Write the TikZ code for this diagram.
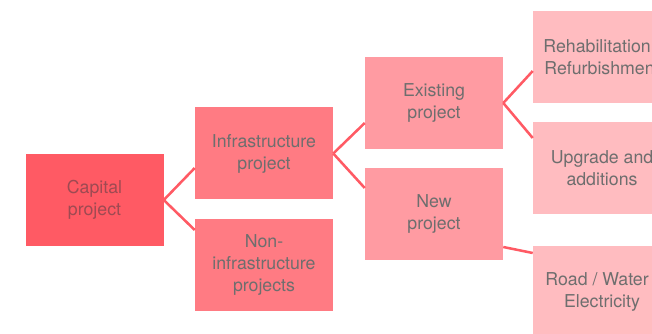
\documentclass[tikz,border=0pt]{standalone}
\usepackage{fontspec}
\setmainfont{TeX Gyre Heros}
\usetikzlibrary{calc}
\definecolor{lvlA}{HTML}{FF5A64}
\definecolor{lvlB}{HTML}{FF7B83}
\definecolor{lvlC}{HTML}{FF9BA2}
\definecolor{lvlD}{HTML}{FFBCC0}
\definecolor{linkred}{HTML}{FF5A64}
\definecolor{txtA}{HTML}{9E4A52}
\definecolor{txtB}{HTML}{6E6E6E}
\tikzset{box/.style={minimum width=103.5pt, minimum height=69pt, inner sep=0pt, align=center,
    font=\fontsize{13.3}{16.5}\selectfont, text=txtB},
  link/.style={linkred, line width=1.9pt}}

\begin{document}
\begin{tikzpicture}[x=0.75pt, y=-0.75pt]
      \useasboundingbox (0,0) rectangle (652,334);
      \clip (0,0) rectangle (652,334);
      % Boxes
      \node[box, fill=lvlA, text=txtA] (capital) at (94.5,200) {Capital\\project};
      \node[box, fill=lvlB] (infra) at (264,153.5) {Infrastructure\\project};
      \node[box, fill=lvlB] (noninfra) at (264,265) {Non-\\infrastructure\\projects};
      \node[box, fill=lvlC] (existing) at (434,103) {Existing\\project};
      \node[box, fill=lvlC] (new) at (434,214) {New\\project};
      \node[box, fill=lvlD] (rehab) at (602,57) {Rehabilitation /\\Refurbishment};
      \node[box, fill=lvlD] (upgrade) at (602,168) {Upgrade and\\additions};
      \node[box, fill=lvlD] (utility) at (602,292) {Road / Water /\\Electricity};
      % Links
      \draw[link] (capital.east) -- ($(infra.west)+(0,14.5)$);
      \draw[link] (capital.east) -- ($(noninfra.west)+(0,-35)$);
      \draw[link] (infra.east) -- ($(existing.west)+(0,20)$);
      \draw[link] (infra.east) -- ($(new.west)+(0,-26)$);
      \draw[link] (existing.east) -- ($(rehab.west)+(0,14)$);
      \draw[link] (existing.east) -- ($(upgrade.west)+(0,-30)$);
      \draw[link] ($(new.east)+(0,33)$) -- ($(utility.west)+(0,-39)$);
\end{tikzpicture}
\end{document}
